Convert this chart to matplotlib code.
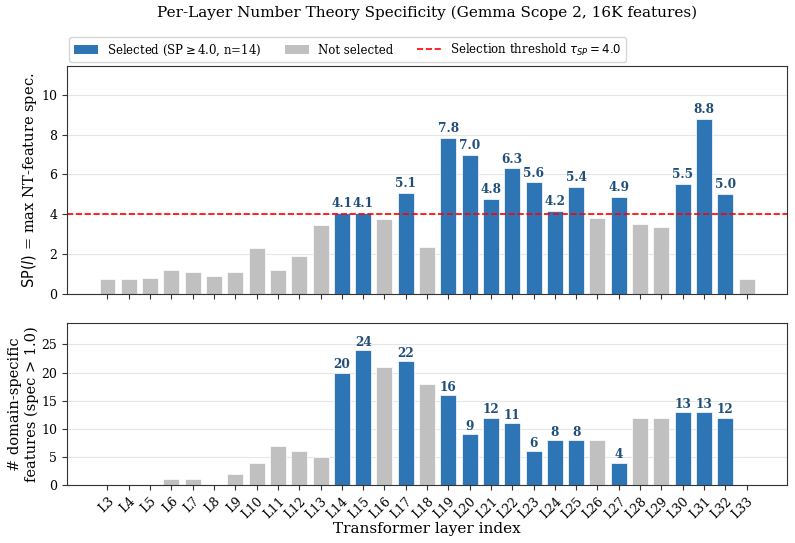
import matplotlib
matplotlib.use("Agg")
import matplotlib.pyplot as plt
from matplotlib.patches import Patch
from matplotlib.lines import Line2D

layers = [f"L{i}" for i in range(3, 34)]
sp_values = [0.76, 0.76, 0.81, 1.19, 1.10, 0.92, 1.08, 2.29, 1.22, 1.89, 3.46,
             4.06, 4.08, 3.75, 5.08, 2.34, 7.82, 6.97, 4.76, 6.30, 5.60, 4.18,
             5.37, 3.80, 4.88, 3.50, 3.36, 5.53, 8.80, 5.02, 0.76]
counts = [0, 0, 0, 1, 1, 0, 2, 4, 7, 6, 5, 20, 24, 21, 22, 18, 16, 9, 12, 11,
          6, 8, 8, 8, 4, 12, 12, 13, 13, 12, 0]
threshold = 4.0

plt.rcParams['font.family'] = 'DejaVu Serif'

BLUE = '#2e75b6'
GREY = '#c0c0c0'
LABEL_C = '#1f4e79'

selected = [v >= threshold for v in sp_values]
colors = [BLUE if s else GREY for s in selected]
x = list(range(len(layers)))

fig = plt.figure(figsize=(7.95, 5.43), dpi=100)
ax1 = fig.add_axes([0.0843, 0.4586, 0.9057, 0.4199])
ax2 = fig.add_axes([0.0843, 0.1068, 0.9057, 0.2983])

for ax in (ax1, ax2):
    ax.set_axisbelow(True)
    ax.grid(axis='y', color='#e6e6e6', linewidth=0.8)
    for sp in ax.spines.values():
        sp.set_color('#333333')
    ax.tick_params(labelsize=9, color='#333333')

ax1.bar(x, sp_values, width=0.75, color=colors, edgecolor='white', linewidth=0.5)
ax1.axhline(threshold, color='red', linestyle='--', linewidth=1.2)
for xi, v, s in zip(x, sp_values, selected):
    if s:
        ax1.annotate(f"{v:.1f}", (xi, v), xytext=(0, 2), textcoords='offset points',
                     ha='center', va='bottom', fontsize=8.7, fontweight='bold', color=LABEL_C)
ax1.set_xlim(-1.9, len(layers) - 1 + 1.9)
ax1.set_ylim(0, max(sp_values) * 1.3)
ax1.set_xticks(x)
ax1.set_xticklabels([])
ax1.set_ylabel(r"$\mathrm{SP}(l)$ = max NT-feature spec.", fontsize=10.5, labelpad=2)

handles = [Patch(facecolor=BLUE, label=r"Selected (SP$\geq$4.0, n=%d)" % sum(selected)),
           Patch(facecolor=GREY, label="Not selected"),
           Line2D([0], [0], color='red', linestyle='--', linewidth=1.2,
                  label=r"Selection threshold $\tau_{SP}=4.0$")]
ax1.legend(handles=handles, loc='lower left', bbox_to_anchor=(0.0, 1.005), ncol=3,
           fontsize=8.5, frameon=True, borderaxespad=0.2)

ax2.bar(x, counts, width=0.75, color=colors, edgecolor='white', linewidth=0.5)
for xi, c, s in zip(x, counts, selected):
    if s:
        ax2.annotate(f"{c}", (xi, c), xytext=(0, 1), textcoords='offset points',
                     ha='center', va='bottom', fontsize=8.7, fontweight='bold', color=LABEL_C)
ax2.set_xlim(-1.9, len(layers) - 1 + 1.9)
ax2.set_ylim(0, max(counts) * 1.2)
ax2.set_xticks(x)
ax2.set_xticklabels(layers, rotation=45, ha='right', rotation_mode='anchor', fontsize=9)
ax2.set_ylabel("# domain-specific\nfeatures (spec > 1.0)", fontsize=10.5, labelpad=2)
ax2.set_xlabel("Transformer layer index", fontsize=11, labelpad=1)

fig.text(0.537, 0.976, "Per-Layer Number Theory Specificity (Gemma Scope 2, 16K features)",
         fontsize=11, ha='center', va='center')

fig.savefig("out.png", dpi=100)
